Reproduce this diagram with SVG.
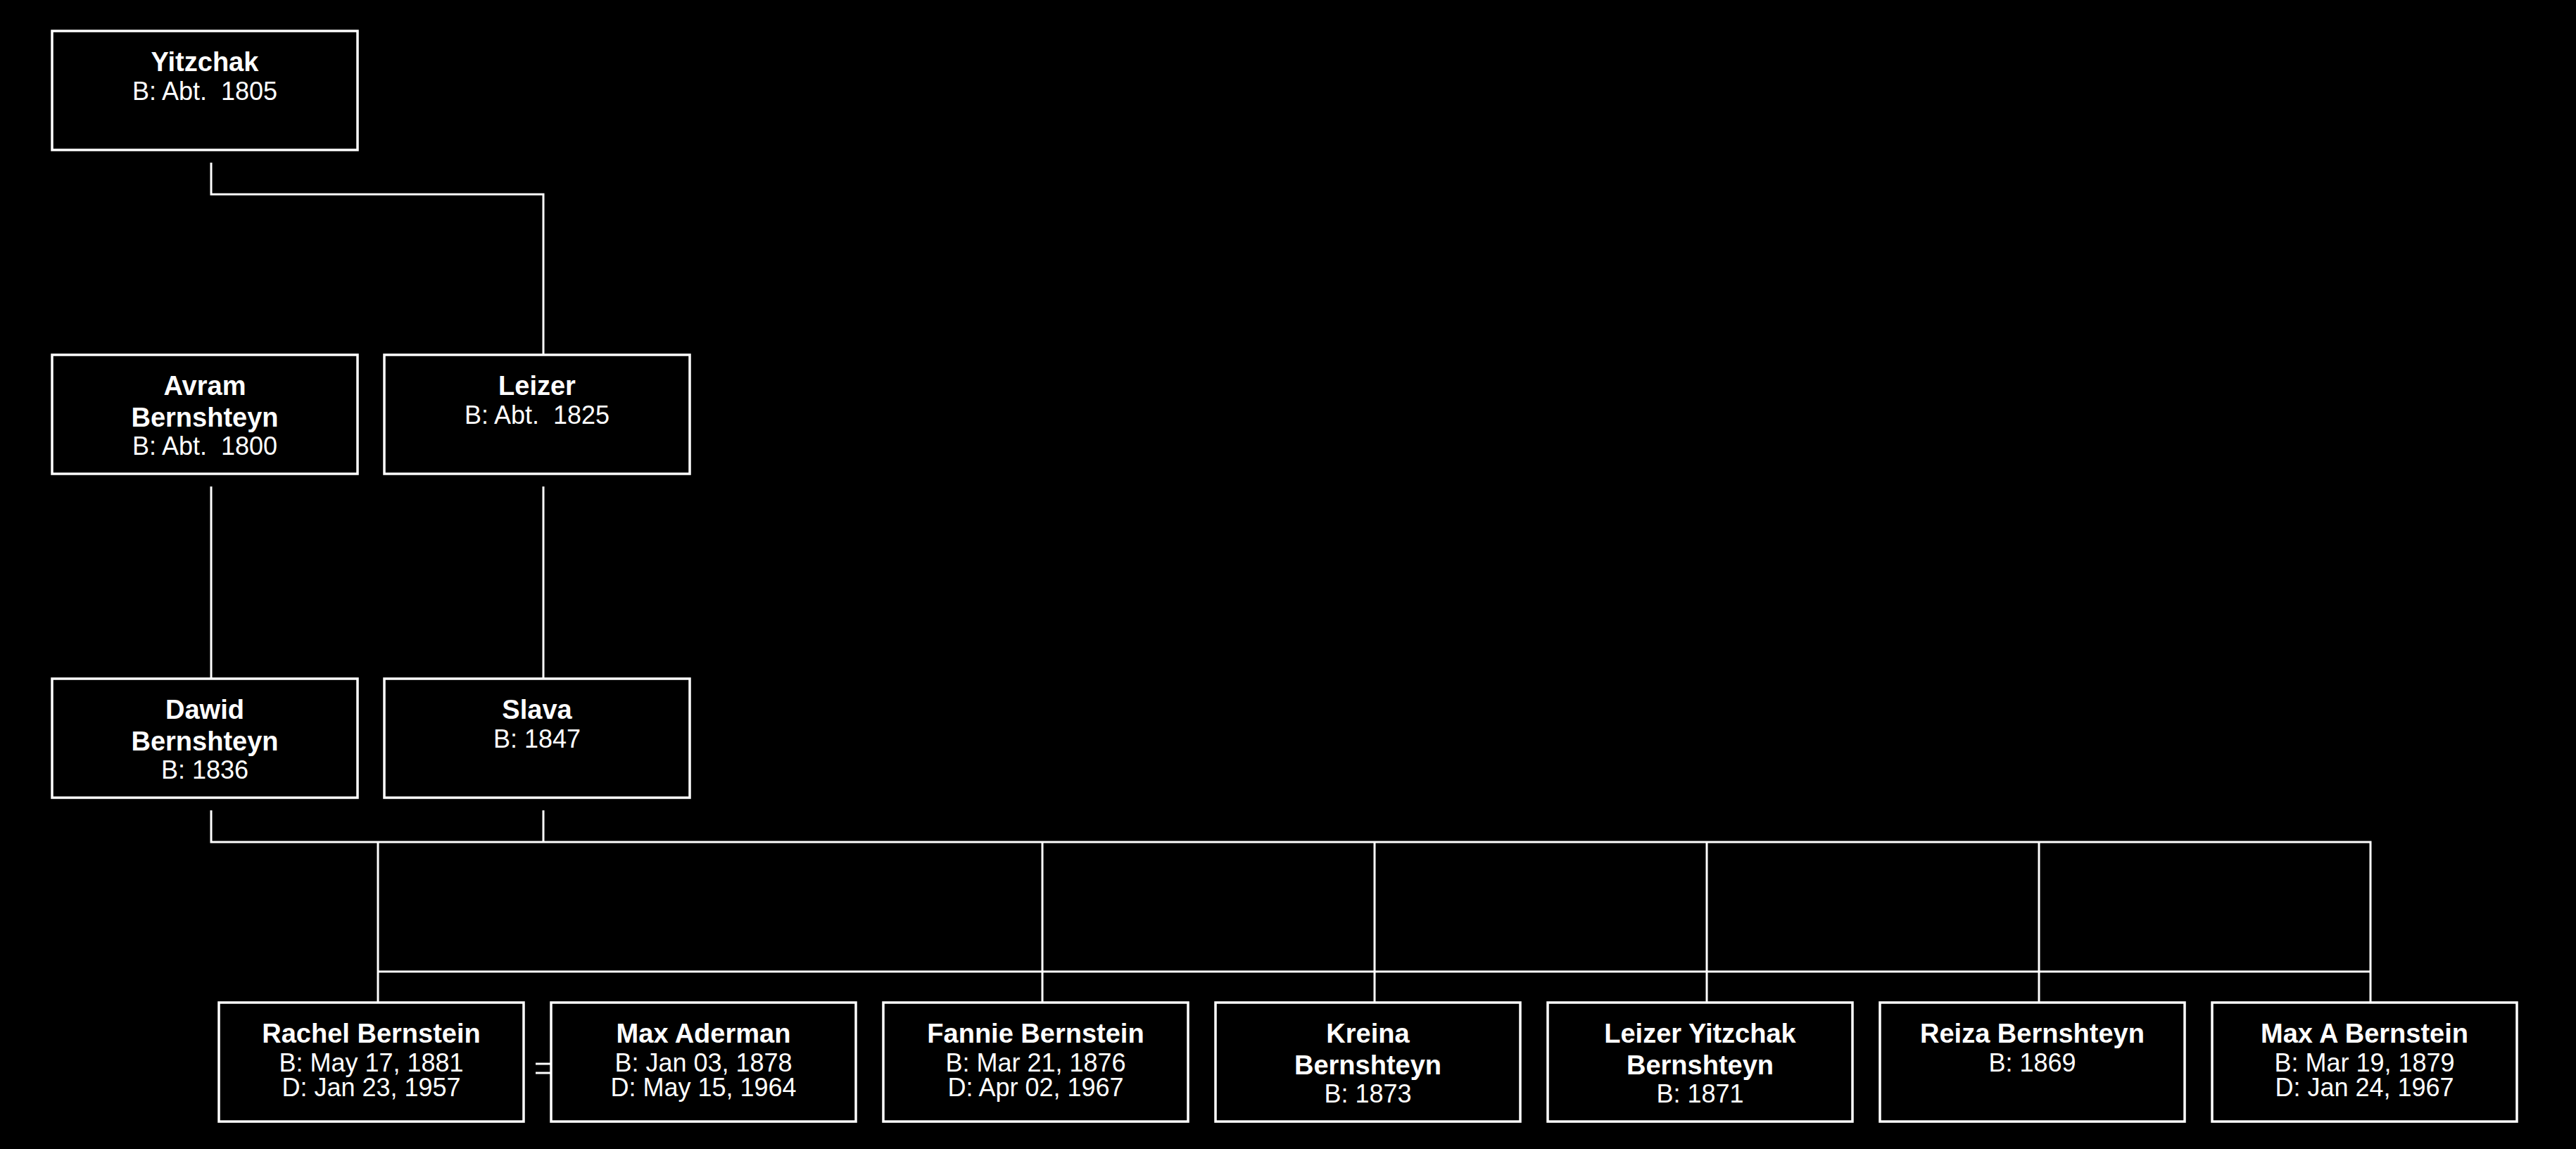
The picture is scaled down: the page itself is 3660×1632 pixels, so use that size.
<svg xmlns="http://www.w3.org/2000/svg" width="3660" height="1632" viewBox="0 0 3660 1632">
<style>
.box{fill:#000;stroke:#fff;stroke-width:3.5}
.ln{fill:none;stroke:#fff;stroke-width:3}
text{font-family:"Liberation Sans",Arial,sans-serif;fill:#fff;text-anchor:middle;white-space:pre}
.n{font-weight:bold;font-size:38px}
.d{font-size:36px}
</style>
<rect x="0" y="0" width="3660" height="1632" fill="#000"/>
<g id="connectors">
<path class="ln" d="M300,231 V276 H772 V504"/>
<path class="ln" d="M300,691 V964"/>
<path class="ln" d="M772,691 V964"/>
<path class="ln" d="M300,1151 V1196 H3368 V1424"/>
<path class="ln" d="M772,1151 V1196"/>
<path class="ln" d="M537,1196 V1424"/>
<path class="ln" d="M1481,1196 V1424"/>
<path class="ln" d="M1953,1196 V1424"/>
<path class="ln" d="M2425,1196 V1424"/>
<path class="ln" d="M2897,1196 V1424"/>
<path class="ln" d="M537,1380 H3368"/>
<path class="ln" d="M761,1511 H783 M761,1524 H783"/>
</g>
<g id="yitzchak">
<rect class="box" x="74" y="44" width="434" height="169"/>
<text class="n" x="291" y="101">Yitzchak</text>
<text class="d" x="291" y="142">B: Abt.  1805</text>
</g>
<g id="avram">
<rect class="box" x="74" y="504" width="434" height="169"/>
<text class="n" x="291" y="561">Avram</text>
<text class="n" x="291" y="606">Bernshteyn</text>
<text class="d" x="291" y="646">B: Abt.  1800</text>
</g>
<g id="leizer">
<rect class="box" x="546" y="504" width="434" height="169"/>
<text class="n" x="763" y="561">Leizer</text>
<text class="d" x="763" y="602">B: Abt.  1825</text>
</g>
<g id="dawid">
<rect class="box" x="74" y="964" width="434" height="169"/>
<text class="n" x="291" y="1021">Dawid</text>
<text class="n" x="291" y="1066">Bernshteyn</text>
<text class="d" x="291" y="1106">B: 1836</text>
</g>
<g id="slava">
<rect class="box" x="546" y="964" width="434" height="169"/>
<text class="n" x="763" y="1021">Slava</text>
<text class="d" x="763" y="1062">B: 1847</text>
</g>
<g id="rachel">
<rect class="box" x="311" y="1424" width="433" height="169"/>
<text class="n" x="527.5" y="1481">Rachel Bernstein</text>
<text class="d" x="527.5" y="1522">B: May 17, 1881</text>
<text class="d" x="527.5" y="1557">D: Jan 23, 1957</text>
</g>
<g id="max-aderman">
<rect class="box" x="783" y="1424" width="433" height="169"/>
<text class="n" x="999.5" y="1481">Max Aderman</text>
<text class="d" x="999.5" y="1522">B: Jan 03, 1878</text>
<text class="d" x="999.5" y="1557">D: May 15, 1964</text>
</g>
<g id="fannie">
<rect class="box" x="1255" y="1424" width="433" height="169"/>
<text class="n" x="1471.5" y="1481">Fannie Bernstein</text>
<text class="d" x="1471.5" y="1522">B: Mar 21, 1876</text>
<text class="d" x="1471.5" y="1557">D: Apr 02, 1967</text>
</g>
<g id="kreina">
<rect class="box" x="1727" y="1424" width="433" height="169"/>
<text class="n" x="1943.5" y="1481">Kreina</text>
<text class="n" x="1943.5" y="1526">Bernshteyn</text>
<text class="d" x="1943.5" y="1566">B: 1873</text>
</g>
<g id="leizer-yitzchak">
<rect class="box" x="2199" y="1424" width="433" height="169"/>
<text class="n" x="2415.5" y="1481">Leizer Yitzchak</text>
<text class="n" x="2415.5" y="1526">Bernshteyn</text>
<text class="d" x="2415.5" y="1566">B: 1871</text>
</g>
<g id="reiza">
<rect class="box" x="2671" y="1424" width="433" height="169"/>
<text class="n" x="2887.5" y="1481">Reiza Bernshteyn</text>
<text class="d" x="2887.5" y="1522">B: 1869</text>
</g>
<g id="max-a">
<rect class="box" x="3143" y="1424" width="433" height="169"/>
<text class="n" x="3359.5" y="1481">Max A Bernstein</text>
<text class="d" x="3359.5" y="1522">B: Mar 19, 1879</text>
<text class="d" x="3359.5" y="1557">D: Jan 24, 1967</text>
</g>
</svg>
